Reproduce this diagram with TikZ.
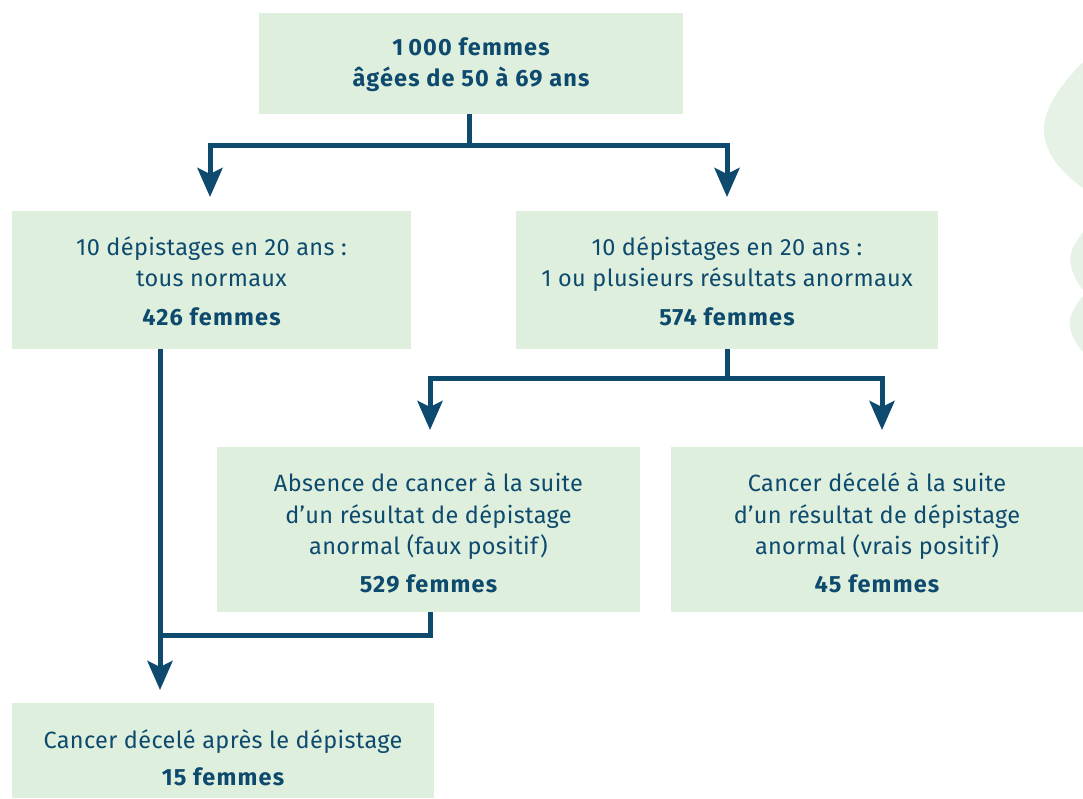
\documentclass[tikz,border=0pt]{standalone}
\usepackage{fontspec}
\setmainfont[LetterSpace=1.5, BoldFeatures={LetterSpace=5}]{Fira Sans}
\usetikzlibrary{arrows.meta}
\definecolor{boxgreen}{HTML}{DFEFDD}
\definecolor{leafgreen}{HTML}{E6F2E6}
\definecolor{navy}{HTML}{0D4A6E}
\tikzset{
  box/.style={fill=boxgreen, draw=none, inner sep=0pt, anchor=north west},
  txt/.style={inner sep=0pt, text=navy, align=center,
    font=\fontsize{23.5}{31.5}\selectfont},
  conn/.style={draw=navy, line width=5pt},
  arr/.style={conn, -{Stealth[length=29pt,width=25pt,inset=6pt]}},
}
\begin{document}
\begin{tikzpicture}[x=1pt,y=-1pt]
\useasboundingbox (0,0) rectangle (1083,798);
% decorative leaves
\fill[leafgreen] (1083,62) .. controls (1050,95) and (1040,120) .. (1045,140) .. controls (1050,160) and (1065,175) .. (1083,188) -- cycle;
\fill[leafgreen] (1083,232) .. controls (1073,245) and (1068,255) .. (1071,266) .. controls (1073,275) and (1078,284) .. (1083,290) -- cycle;
\fill[leafgreen] (1083,296) .. controls (1073,308) and (1068,318) .. (1070,328) .. controls (1072,338) and (1078,346) .. (1083,352) -- cycle;
% boxes
\node[box, minimum width=424pt, minimum height=101pt] (top) at (259,13) {};
\node[txt] (toptxt) at (471,64.5)
  {\bfseries 1\hspace{5pt}000 femmes\\ \bfseries âgées de 50 à 69 ans};
\node[box, minimum width=399pt, minimum height=138pt] (left) at (12,211) {};
\node[txt] (lefttxt) at (211.5,281)
  {10 dépistages en 20 ans :\\ tous normaux\\[7pt] \bfseries 426 femmes};
\node[box, minimum width=422pt, minimum height=138pt] (right) at (516,211) {};
\node[txt] (righttxt) at (727,281)
  {10 dépistages en 20 ans :\\ 1 ou plusieurs résultats anormaux\\[7pt] \bfseries 574 femmes};
\node[box, minimum width=423pt, minimum height=165pt] (mid) at (217,447) {};
\node[txt] (midtxt) at (428.5,533)
  {Absence de cancer à la suite\\ d’un résultat de dépistage\\ anormal (faux positif)\\[6pt] \bfseries 529 femmes};
\node[box, minimum width=412pt, minimum height=165pt] (rb) at (671,447) {};
\node[txt] (rbtxt) at (877,533)
  {Cancer décelé à la suite\\ d’un résultat de dépistage\\ anormal (vrais positif)\\[6pt] \bfseries 45 femmes};
\node[box, minimum width=422pt, minimum height=95pt] (bot) at (12,703) {};
\node[txt] (bottxt) at (223,758)
  {Cancer décelé après le dépistage\\[6pt] \bfseries 15 femmes};
% junction points
\coordinate (s1) at (469,145);
\coordinate (s2) at (727,378);
\coordinate (s3) at (160,635);
% connectors
\draw[conn] (top.south -| s1) -- (s1);
\draw[arr, shorten >=14pt] (s1) -| (left.north -| 210,0);
\draw[arr, shorten >=14pt] (s1) -| (right.north -| 727,0);
\draw[conn] (right.south -| s2) -- (s2);
\draw[arr, shorten >=17pt] (s2) -| (mid.north -| 430,0);
\draw[arr, shorten >=17pt] (s2) -| (rb.north -| 882,0);
\draw[conn] (mid.south -| 430,0) |- (s3);
\draw[arr, shorten >=13pt] (left.south -| s3) -- (bot.north -| s3);
\end{tikzpicture}
\end{document}
